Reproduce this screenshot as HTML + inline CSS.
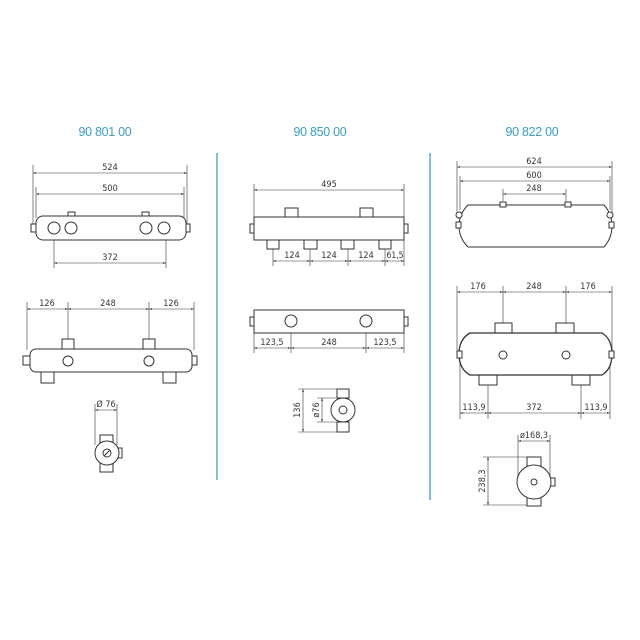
<!DOCTYPE html>
<html><head><meta charset="utf-8"><style>
html,body{margin:0;padding:0;background:#fff;}
svg{display:block}
text{font-family:"DejaVu Sans Condensed","DejaVu Sans","Liberation Sans",sans-serif;font-size:9px;fill:#333;text-anchor:middle}
.t{font-family:"Liberation Sans",sans-serif;font-size:12.5px;fill:#3c9ec6;letter-spacing:-0.3px}
</style></head><body>
<svg width="640" height="640" viewBox="0 0 640 640">
<defs>
<marker id="a" viewBox="0 0 10 10" refX="10" refY="5" markerWidth="5" markerHeight="5" orient="auto-start-reverse"><path d="M0,2 L10,5 L0,8z" fill="#333"/></marker>
</defs>
<g fill="none" stroke="#333" stroke-width="1">
<line x1="217" y1="153" x2="217" y2="480" stroke="#5aa9cf" stroke-width="1.5"/>
<line x1="430" y1="153" x2="430" y2="500" stroke="#5aa9cf" stroke-width="1.5"/>
</g>
<text class="t" x="105" y="136">90 801 00</text>
<text class="t" x="320" y="136">90 850 00</text>
<text class="t" x="532" y="136">90 822 00</text>

<!-- Column 1 -->
<g fill="#fff" stroke="#333" stroke-width="1">
<g stroke-width="0.6">
<line x1="33" y1="165" x2="33" y2="224"/><line x1="187" y1="165" x2="187" y2="224"/>
<line x1="36" y1="187" x2="36" y2="218"/><line x1="184" y1="187" x2="184" y2="218"/>
<line x1="54" y1="234" x2="54" y2="268"/><line x1="166" y1="234" x2="166" y2="268"/>
<line x1="33" y1="173" x2="187" y2="173" marker-start="url(#a)" marker-end="url(#a)"/>
<line x1="36" y1="194" x2="184" y2="194" marker-start="url(#a)" marker-end="url(#a)"/>
<line x1="54" y1="263" x2="166" y2="263" marker-start="url(#a)" marker-end="url(#a)"/>
</g>
<rect x="68" y="212" width="7" height="5"/><rect x="142" y="212" width="7" height="5"/>
<rect x="31" y="224" width="6" height="8"/><rect x="184" y="224" width="6" height="8"/>
<rect x="36" y="216" width="150" height="24" rx="7"/>
<circle cx="54" cy="228" r="6"/><circle cx="71" cy="228" r="6"/><circle cx="146" cy="228" r="6"/><circle cx="164" cy="228" r="6"/>

<g stroke-width="0.6">
<line x1="27" y1="302" x2="27" y2="350"/><line x1="194" y1="302" x2="194" y2="350"/>
<line x1="68" y1="302" x2="68" y2="356"/><line x1="149" y1="302" x2="149" y2="356"/>
<line x1="27" y1="309" x2="68" y2="309" marker-start="url(#a)" marker-end="url(#a)"/>
<line x1="68" y1="309" x2="149" y2="309" marker-start="url(#a)" marker-end="url(#a)"/>
<line x1="149" y1="309" x2="194" y2="309" marker-start="url(#a)" marker-end="url(#a)"/>
</g>
<rect x="62" y="339" width="12" height="11"/><rect x="143" y="339" width="12" height="11"/>
<rect x="41" y="372" width="13" height="11"/><rect x="163" y="372" width="13" height="11"/>
<rect x="23" y="356" width="8" height="9"/><rect x="190" y="356" width="7" height="9"/>
<rect x="30" y="349" width="162" height="23" rx="6"/>
<circle cx="68" cy="361" r="5"/><circle cx="149" cy="361" r="5"/>

<g stroke-width="0.6">
<line x1="95" y1="404" x2="95" y2="445"/><line x1="117" y1="404" x2="117" y2="445"/>
<line x1="95" y1="410" x2="117" y2="410" marker-start="url(#a)" marker-end="url(#a)"/>
</g>
<rect x="100" y="435" width="13" height="9"/><rect x="100" y="463" width="13" height="9"/>
<rect x="117" y="448" width="5" height="10"/>
<circle cx="107" cy="453" r="12"/><circle cx="107" cy="453" r="4"/>
<line x1="104" y1="456" x2="110" y2="450"/>
</g>
<text x="110" y="170">524</text><text x="110" y="191">500</text><text x="110" y="260">372</text>
<text x="47" y="306">126</text><text x="108" y="306">248</text><text x="171" y="306">126</text>
<text x="106" y="407">Ø 76</text>

<!-- Column 2 -->
<g fill="#fff" stroke="#333" stroke-width="1">
<g stroke-width="0.6">
<line x1="254" y1="184" x2="254" y2="217"/><line x1="404" y1="184" x2="404" y2="266"/>
<line x1="254" y1="190" x2="404" y2="190" marker-start="url(#a)" marker-end="url(#a)"/>
<line x1="273" y1="249" x2="273" y2="266"/><line x1="310" y1="249" x2="310" y2="266"/>
<line x1="348" y1="249" x2="348" y2="266"/><line x1="385" y1="249" x2="385" y2="266"/>
<line x1="273" y1="261" x2="310" y2="261" marker-start="url(#a)" marker-end="url(#a)"/>
<line x1="310" y1="261" x2="348" y2="261" marker-start="url(#a)" marker-end="url(#a)"/>
<line x1="348" y1="261" x2="385" y2="261" marker-start="url(#a)" marker-end="url(#a)"/>
<line x1="385" y1="261" x2="404" y2="261" marker-start="url(#a)" marker-end="url(#a)"/>
</g>
<rect x="285" y="208" width="13" height="9"/><rect x="360" y="208" width="13" height="9"/>
<rect x="267" y="240" width="12" height="9"/><rect x="304" y="240" width="13" height="9"/>
<rect x="341" y="240" width="13" height="9"/><rect x="379" y="240" width="12" height="9"/>
<rect x="250" y="224" width="4" height="9"/><rect x="404" y="224" width="4" height="9"/>
<rect x="254" y="217" width="150" height="23"/>

<g stroke-width="0.6">
<line x1="254" y1="333" x2="254" y2="353"/><line x1="404" y1="333" x2="404" y2="353"/>
<line x1="291" y1="321" x2="291" y2="353"/><line x1="366" y1="321" x2="366" y2="353"/>
<line x1="254" y1="348" x2="291" y2="348" marker-start="url(#a)" marker-end="url(#a)"/>
<line x1="291" y1="348" x2="366" y2="348" marker-start="url(#a)" marker-end="url(#a)"/>
<line x1="366" y1="348" x2="404" y2="348" marker-start="url(#a)" marker-end="url(#a)"/>
</g>
<rect x="250" y="317" width="4" height="9"/><rect x="404" y="317" width="4" height="9"/>
<rect x="254" y="310" width="150" height="23"/>
<circle cx="291" cy="321" r="6"/><circle cx="366" cy="321" r="6"/>

<g stroke-width="0.6">
<line x1="298" y1="389" x2="337" y2="389"/><line x1="298" y1="432" x2="337" y2="432"/>
<line x1="317" y1="398" x2="340" y2="398"/><line x1="317" y1="422" x2="340" y2="422"/>
<line x1="303" y1="389" x2="303" y2="432" marker-start="url(#a)" marker-end="url(#a)"/>
<line x1="322" y1="398" x2="322" y2="422" marker-start="url(#a)" marker-end="url(#a)"/>
</g>
<rect x="337" y="389" width="12" height="9"/><rect x="337" y="422" width="12" height="10"/>
<circle cx="343" cy="410" r="12"/><circle cx="343" cy="410" r="4"/>
</g>
<text x="329" y="187">495</text>
<text x="292" y="258">124</text><text x="329" y="258">124</text><text x="366" y="258">124</text><text x="395" y="258" style="font-size:8.5px">61,5</text>
<text x="272" y="345">123,5</text><text x="329" y="345">248</text><text x="385" y="345">123,5</text>
<text x="300" y="410" transform="rotate(-90 300 410)">136</text>
<text x="319" y="410" transform="rotate(-90 319 410)">ø76</text>

<!-- Column 3 -->
<g fill="#fff" stroke="#333" stroke-width="1">
<g stroke-width="0.6">
<line x1="457" y1="161" x2="457" y2="213"/><line x1="612" y1="161" x2="612" y2="213"/>
<line x1="460" y1="176" x2="460" y2="210"/><line x1="610" y1="176" x2="610" y2="210"/>
<line x1="503" y1="189" x2="503" y2="201"/><line x1="566" y1="189" x2="566" y2="201"/>
<line x1="457" y1="167" x2="612" y2="167" marker-start="url(#a)" marker-end="url(#a)"/>
<line x1="460" y1="181" x2="610" y2="181" marker-start="url(#a)" marker-end="url(#a)"/>
<line x1="503" y1="194" x2="566" y2="194" marker-start="url(#a)" marker-end="url(#a)"/>
</g>
<path d="M468,205 L604,205 Q612,214 612,226 Q612,238 604,247 L468,247 Q459,238 459,226 Q459,214 468,205Z"/>
<rect x="500" y="202" width="6" height="5"/><rect x="565" y="202" width="6" height="5"/>
<circle cx="459" cy="215" r="3"/><rect x="456" y="222" width="5" height="6"/>
<circle cx="610" cy="215" r="3"/><rect x="609" y="222" width="5" height="6"/>

<g stroke-width="0.6">
<line x1="457" y1="286" x2="457" y2="351"/><line x1="612" y1="286" x2="612" y2="351"/>
<line x1="503" y1="286" x2="503" y2="323"/><line x1="566" y1="286" x2="566" y2="323"/>
<line x1="457" y1="292" x2="503" y2="292" marker-start="url(#a)" marker-end="url(#a)"/>
<line x1="503" y1="292" x2="566" y2="292" marker-start="url(#a)" marker-end="url(#a)"/>
<line x1="566" y1="292" x2="612" y2="292" marker-start="url(#a)" marker-end="url(#a)"/>
<line x1="460" y1="360" x2="460" y2="419"/><line x1="610" y1="360" x2="610" y2="419"/>
<line x1="488" y1="385" x2="488" y2="419"/><line x1="581" y1="385" x2="581" y2="419"/>
<line x1="460" y1="413" x2="488" y2="413" marker-start="url(#a)" marker-end="url(#a)"/>
<line x1="488" y1="413" x2="581" y2="413" marker-start="url(#a)" marker-end="url(#a)"/>
<line x1="581" y1="413" x2="610" y2="413" marker-start="url(#a)" marker-end="url(#a)"/>
</g>
<rect x="495" y="323" width="17" height="10"/><rect x="556" y="323" width="18" height="10"/>
<rect x="479" y="375" width="18" height="10"/><rect x="572" y="375" width="18" height="10"/>
<path d="M470,333 L602,333 Q612,339 612,354 Q612,369 602,375 L470,375 Q459,369 459,354 Q459,339 470,333Z" stroke-width="1.3"/>
<rect x="457" y="351" width="5" height="7"/><rect x="609" y="351" width="5" height="7"/>
<circle cx="503" cy="355" r="4"/><circle cx="566" cy="355" r="4"/>

<g stroke-width="0.6">
<line x1="518" y1="435" x2="518" y2="480"/><line x1="550" y1="435" x2="550" y2="480"/>
<line x1="518" y1="441" x2="550" y2="441" marker-start="url(#a)" marker-end="url(#a)"/>
<line x1="483" y1="457" x2="527" y2="457"/><line x1="483" y1="505" x2="527" y2="505"/>
<line x1="488" y1="457" x2="488" y2="505" marker-start="url(#a)" marker-end="url(#a)"/>
</g>
<rect x="527" y="457" width="14" height="9"/><rect x="527" y="497" width="14" height="9"/>
<rect x="550" y="478" width="5" height="8"/>
<circle cx="534" cy="482" r="17"/><circle cx="534" cy="482" r="3"/>
</g>
<text x="534" y="164">624</text><text x="534" y="178">600</text><text x="534" y="191">248</text>
<text x="478" y="289">176</text><text x="534" y="289">248</text><text x="588" y="289">176</text>
<text x="474" y="410">113,9</text><text x="534" y="410">372</text><text x="596" y="410">113,9</text>
<text x="534" y="438">ø168,3</text>
<text x="485" y="481" transform="rotate(-90 485 481)">238,3</text>
</svg>
</body></html>
